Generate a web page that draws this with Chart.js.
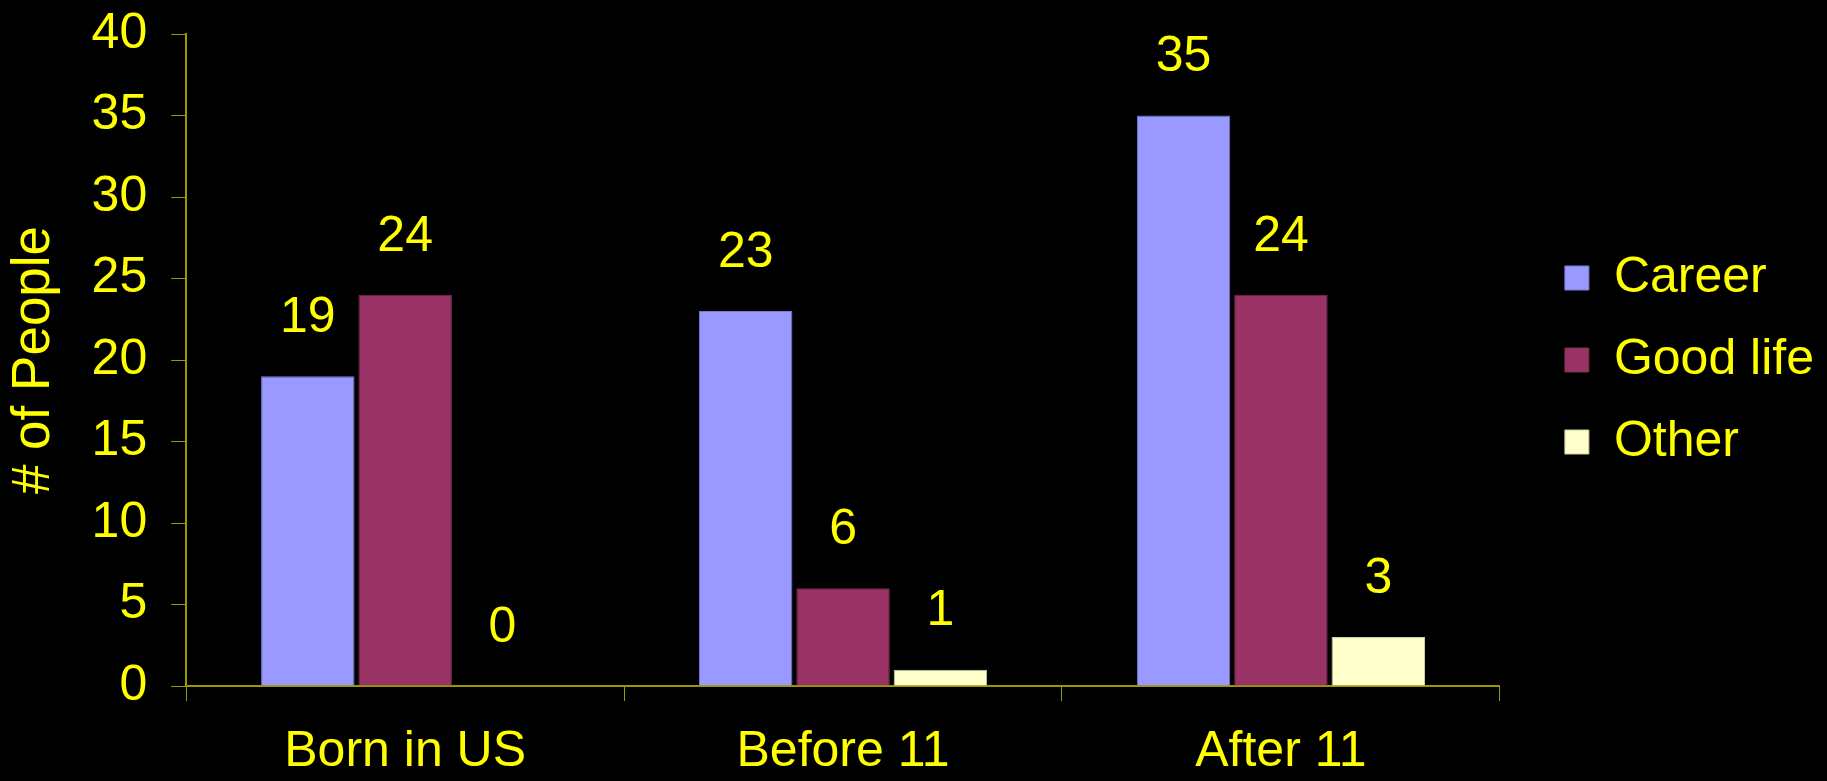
<!DOCTYPE html>
<html>
<head>
<meta charset="utf-8">
<script src="https://cdn.jsdelivr.net/npm/chart.js@4/dist/chart.umd.min.js"></script>
<style>
  html, body { margin: 0; padding: 0; background: #000; }
  #wrap { width: 1827px; height: 781px; }
</style>
</head>
<body>
<div id="wrap"><canvas id="c" width="1827" height="781"></canvas></div>
<script>
const categories = ["Born in US", "Before 11", "After 11"];
const career = [19, 23, 35];
const goodLife = [24, 6, 24];
const other = [0, 1, 3];
const seriesNames = ["Career", "Good life", "Other"];
const yTicks = [0, 5, 10, 15, 20, 25, 30, 35, 40];

const YELLOW = "#FFFF00";
const AXIS = "#9c9600";
const FONT = "'Liberation Sans', Arial, sans-serif";

const valueLabels = {
  id: "valueLabels",
  afterDatasetsDraw(chart) {
    const ctx = chart.ctx;
    ctx.save();
    ctx.fillStyle = YELLOW;
    ctx.font = "50px " + FONT;
    ctx.textAlign = "center";
    ctx.textBaseline = "middle";
    chart.data.datasets.forEach((ds, i) => {
      const meta = chart.getDatasetMeta(i);
      meta.data.forEach((el, j) => {
        ctx.fillText(String(ds.data[j]), el.x, el.y - 58);
      });
    });
    ctx.restore();
  }
};

new Chart(document.getElementById("c"), {
  type: "bar",
  data: {
    labels: categories,
    datasets: [
      { label: seriesNames[0], data: career, backgroundColor: "#9999FF", borderColor: "#7a7acc", borderWidth: 1 },
      { label: seriesNames[1], data: goodLife, backgroundColor: "#993366", borderColor: "#7a2952", borderWidth: 1 },
      { label: seriesNames[2], data: other, backgroundColor: "#FFFFCC", borderColor: "#ccccA3", borderWidth: 1 }
    ]
  },
  options: {
    responsive: false,
    animation: false,
    devicePixelRatio: 1,
    categoryPercentage: 0.667,
    barPercentage: 0.96,
    layout: { padding: { left: 0, top: 0, right: 3, bottom: -22 } },
    plugins: {
      legend: {
        position: "right",
        fullSize: false,
        labels: {
          color: YELLOW,
          font: { family: FONT, size: 50 },
          boxWidth: 24,
          boxHeight: 24,
          padding: 32
        }
      },
      tooltip: { enabled: false }
    },
    scales: {
      x: {
        grid: {
          display: true,
          drawOnChartArea: false,
          drawTicks: true,
          tickLength: 15,
          color: AXIS,
          offset: true
        },
        border: { display: true, color: AXIS, width: 2 },
        ticks: { color: YELLOW, font: { family: FONT, size: 50, lineHeight: 1.0 }, padding: 26, maxRotation: 0 }
      },
      y: {
        min: 0,
        max: 40,
        afterBuildTicks(axis) { axis.ticks = yTicks.map(v => ({ value: v })); },
        grid: {
          display: true,
          drawOnChartArea: false,
          drawTicks: true,
          tickLength: 15,
          color: AXIS
        },
        border: { display: true, color: AXIS, width: 2 },
        ticks: { color: YELLOW, font: { family: FONT, size: 50, lineHeight: 0.4 }, padding: 24 },
        title: {
          display: true,
          text: "# of People",
          color: YELLOW,
          font: { family: FONT, size: 53 },
          padding: { top: 3, bottom: 1 }
        }
      },
      gap: {
        position: "right",
        display: true,
        grid: { display: false },
        border: { display: false },
        ticks: { display: false },
        afterFit(scale) { scale.width = 33; }
      }
    }
  },
  plugins: [valueLabels]
});
</script>
</body>
</html>
